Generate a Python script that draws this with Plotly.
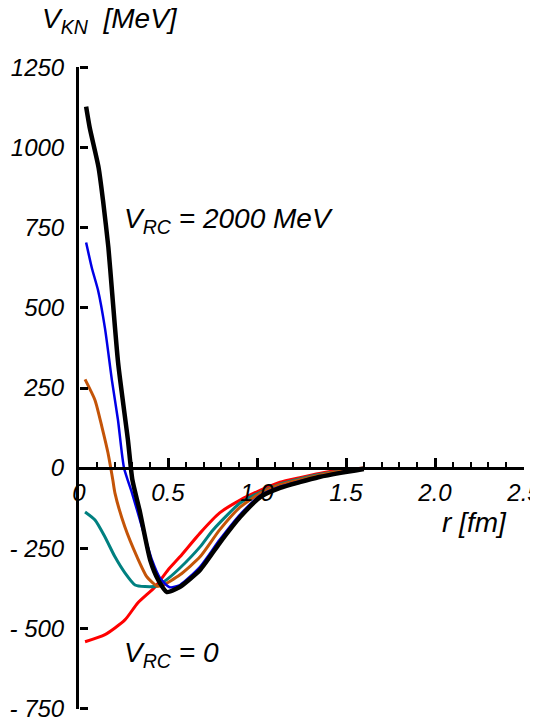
import plotly.graph_objects as go

# ---- data ----
r_black = [0.04, 0.06, 0.11, 0.135, 0.165, 0.185, 0.22, 0.275, 0.30, 0.34, 0.40, 0.445, 0.494, 0.55, 0.57, 0.68, 0.79, 0.905, 1.02, 1.13, 1.24, 1.35, 1.47, 1.6]
v_black = [1128, 1063, 938, 835, 689, 555, 327, 87, -37, -131, -287, -349, -387, -376, -370, -318, -234, -153, -90, -62, -44, -28, -15, -3]

r_blue = [0.04, 0.073, 0.107, 0.146, 0.185, 0.219, 0.253, 0.298, 0.354, 0.41, 0.455, 0.51, 0.567, 0.68, 0.79, 0.905, 1.02, 1.13, 1.24, 1.35, 1.47, 1.6]
v_blue = [704, 623, 555, 436, 274, 150, 0, -78, -184, -287, -343, -372, -365, -308, -224, -145, -85, -58, -41, -26, -13, -3]

r_orange = [0.034, 0.09, 0.129, 0.163, 0.19, 0.202, 0.258, 0.326, 0.382, 0.438, 0.47, 0.567, 0.68, 0.79, 0.905, 1.02, 1.13, 1.24, 1.35, 1.47, 1.6]
v_orange = [277, 212, 128, 47, -37, -78, -184, -277, -340, -368, -366, -333, -277, -193, -122, -78, -52, -36, -22, -10, 0]

r_teal = [0.034, 0.09, 0.146, 0.202, 0.258, 0.315, 0.371, 0.438, 0.5, 0.567, 0.68, 0.753, 0.905, 1.02, 1.13, 1.24, 1.35, 1.47, 1.6]
v_teal = [-137, -162, -215, -277, -327, -365, -370, -368, -345, -312, -246, -193, -109, -75, -50, -34, -20, -9, 0]

r_red = [0.034, 0.146, 0.258, 0.33, 0.427, 0.5, 0.567, 0.68, 0.79, 0.905, 1.02, 1.13, 1.24, 1.35, 1.47, 1.6]
v_red = [-542, -520, -474, -421, -371, -318, -277, -203, -140, -100, -69, -44, -30, -17, -6, 0]

x_ticks = [0, 0.5, 1.0, 1.5, 2.0, 2.5]
x_ticklabels = ["0", "0.5", "1.0", "1.5", "2.0", "2.5"]
y_ticks = [-750, -500, -250, 0, 250, 500, 750, 1000, 1250]
y_ticklabels = ["- 750", "- 500", "- 250", "0", "250", "500", "750", "1000", "1250"]

FONT = "Liberation Sans, Arial, sans-serif"
Y_RANGE = [-752, 1252]

fig = go.Figure()
series = [
    (r_red, v_red, "#ff0000", 3),
    (r_teal, v_teal, "#008080", 3),
    (r_orange, v_orange, "#c45408", 3),
    (r_blue, v_blue, "#0000e6", 2.5),
    (r_black, v_black, "#000000", 4.5),
]
for rr, vv, col, w in series:
    fig.add_trace(go.Scatter(x=rr, y=vv, mode="lines",
                             line=dict(color=col, width=w, shape="spline", smoothing=0.6),
                             showlegend=False, hoverinfo="skip", cliponaxis=False))
# empty trace so the tick-only overlay axis is drawn
fig.add_trace(go.Scatter(x=[], y=[], yaxis="y2", showlegend=False, hoverinfo="skip"))

# page body has an 8px margin: figure is 530x715 so plot area lands at x 79-524, y 67-709
fig.update_layout(
    width=530, height=715,
    margin=dict(l=71, r=14, t=59, b=14, autoexpand=False),
    paper_bgcolor="white", plot_bgcolor="white",
    font=dict(family=FONT, color="black", size=24, style="italic"),
    xaxis=dict(range=[0, 2.5], anchor="free", position=0.375, automargin=False,
               showline=True, linecolor="black", linewidth=3,
               showgrid=False, zeroline=False,
               ticks="inside", ticklen=9, tickwidth=2.5, tickcolor="black",
               tickmode="array", tickvals=x_ticks, ticktext=x_ticklabels,
               tickfont=dict(family=FONT, size=24, style="italic"),
               ticklabelstandoff=2, ticklabeloverflow="allow",
               minor=dict(tickmode="linear", tick0=0, dtick=0.1, ticks="inside",
                          ticklen=5, tickwidth=2, tickcolor="black")),
    yaxis=dict(range=Y_RANGE, anchor="x", automargin=False,
               showline=True, linecolor="black", linewidth=3,
               showgrid=False, zeroline=False, ticks="",
               tickmode="array", tickvals=y_ticks, ticktext=y_ticklabels,
               tickfont=dict(family=FONT, size=24, style="italic"),
               ticklabelstandoff=7, ticklabeloverflow="allow"),
    yaxis2=dict(range=Y_RANGE, overlaying="y", anchor="free", position=0, side="right",
                automargin=False, showline=False, showgrid=False, zeroline=False,
                showticklabels=False,
                ticks="outside", ticklen=8, tickwidth=2.5, tickcolor="black",
                tickmode="array", tickvals=y_ticks),
)

fig.add_annotation(xref="paper", yref="paper", x=-0.088, y=1.073,
                   xanchor="left", yanchor="middle", showarrow=False,
                   text="V<sub>KN</sub>  [MeV]",
                   font=dict(family=FONT, size=28, style="italic"))
fig.add_annotation(xref="paper", yref="paper", x=0.811, y=0.291,
                   xanchor="left", yanchor="middle", showarrow=False,
                   text="r [fm]",
                   font=dict(family=FONT, size=28, style="italic"))
fig.add_annotation(x=0.24, y=773, xanchor="left", yanchor="middle", showarrow=False,
                   text="V<sub>RC</sub> = 2000 MeV",
                   font=dict(family=FONT, size=28, style="italic"))
fig.add_annotation(x=0.24, y=-583, xanchor="left", yanchor="middle", showarrow=False,
                   text="V<sub>RC</sub> = 0",
                   font=dict(family=FONT, size=28, style="italic"))

fig.write_html("out.html")
